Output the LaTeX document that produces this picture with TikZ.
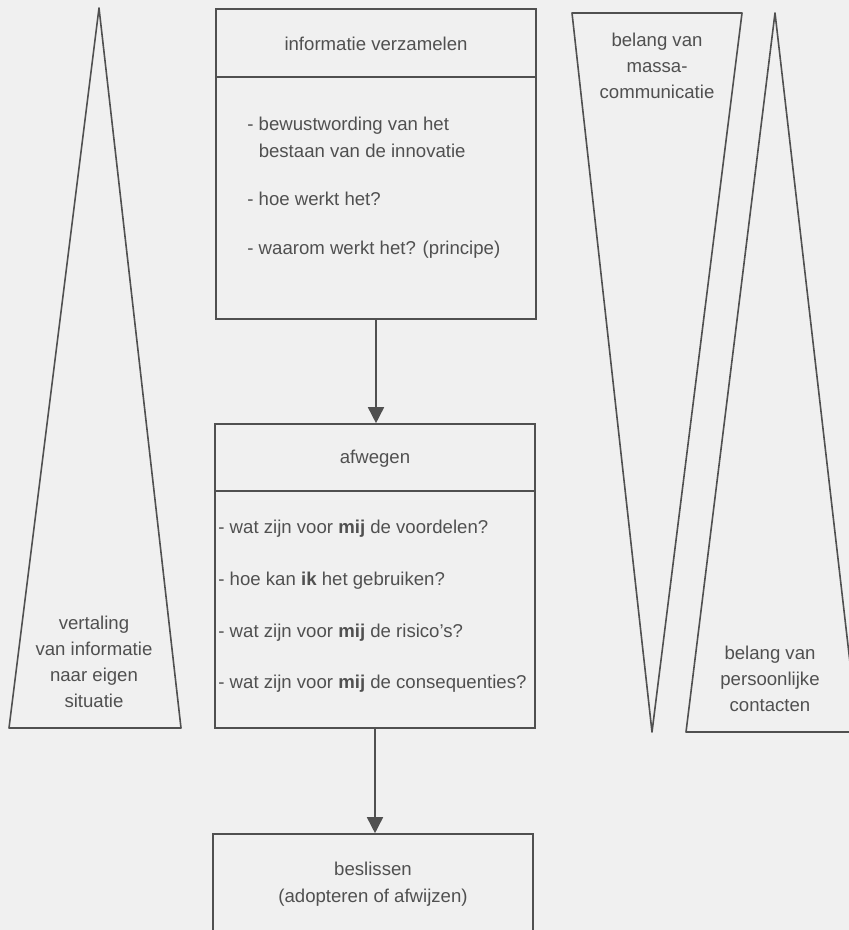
\documentclass[tikz,border=0pt]{standalone}
\usepackage{fontspec}
\setmainfont{Liberation Sans}
\usetikzlibrary{arrows.meta}
\definecolor{inkt}{HTML}{505050}
\definecolor{papier}{HTML}{F0F0F0}
\tikzset{
  lijn/.style={draw=inkt,line width=0.8pt},
  fase/.style={lijn,inner sep=0pt,minimum width=160pt},
  tekst/.style={text=inkt,inner sep=0pt,font=\fontsize{9.3}{13}\selectfont},
  pijl/.style={lijn,-{Triangle[length=8pt,width=8pt]}}
}
\begin{document}
\begin{tikzpicture}[x=0.5pt,y=-0.5pt]
\path[use as bounding box,fill=papier](0,0)rectangle(849,930);
\clip(0,0)rectangle(849,930);
% driehoeken
\coordinate(L1)at(99,8);\coordinate(L2)at(9,728);\coordinate(L3)at(181,728);
\coordinate(M1)at(572,13);\coordinate(M2)at(742,13);\coordinate(M3)at(652,732);
\coordinate(P1)at(775,13);\coordinate(P2)at(686,732);\coordinate(P3)at(858,732);
\draw[lijn,line join=round](L1)--(L2)--(L3)--cycle(M1)--(M2)--(M3)--cycle(P1)--(P2)--(P3)--cycle;
\node[tekst,align=center,anchor=north](vert)at(94,616){vertaling\\van informatie\\naar eigen\\situatie};
\node[tekst,align=center,anchor=north](massa)at(657,33){belang van\\massa-\\communicatie};
\node[tekst,align=center,anchor=north](pers)at(770,646){belang van\\persoonlijke\\contacten};
% fasen
\node[fase,minimum height=155pt](verz)at(376,164){};
\node[fase,minimum height=152pt](afw)at(375,576){};
\node[fase,minimum height=65pt](besl)at(373,899){};
\draw[lijn]([yshift=-34.5pt]verz.north west)--([yshift=-34.5pt]verz.north east);
\draw[lijn]([yshift=-34pt]afw.north west)--([yshift=-34pt]afw.north east);
\draw[pijl](verz.south)--(verz.south|-afw.north);
\draw[pijl](afw.south)--(afw.south|-besl.north);
% teksten
\node[tekst,anchor=base](vt)at(376,51){informatie verzamelen};
\node[tekst,anchor=base west](v1)at(247,131){- bewustwording van het};
\node[tekst,anchor=base west](v2)at(247,158){\phantom{- }bestaan van de innovatie};
\node[tekst,anchor=base west](v3)at(247,206){- hoe werkt het?};
\node[tekst,anchor=base west](v4)at(247,255){- waarom werkt het? (principe)};
\node[tekst,anchor=base](at)at(375,463){afwegen};
\node[tekst,anchor=base west](a1)at(218,533){- wat zijn voor \textbf{mij} de voordelen?};
\node[tekst,anchor=base west](a2)at(218,585){- hoe kan \textbf{ik} het gebruiken?};
\node[tekst,anchor=base west](a3)at(218,637){- wat zijn voor \textbf{mij} de risico's?};
\node[tekst,anchor=base west](a4)at(218,688){- wat zijn voor \textbf{mij} de consequenties?};
\node[tekst,anchor=base](bt)at(373,875){beslissen};
\node[tekst,anchor=base](bt2)at(373,902){(adopteren of afwijzen)};
\end{tikzpicture}
\end{document}
